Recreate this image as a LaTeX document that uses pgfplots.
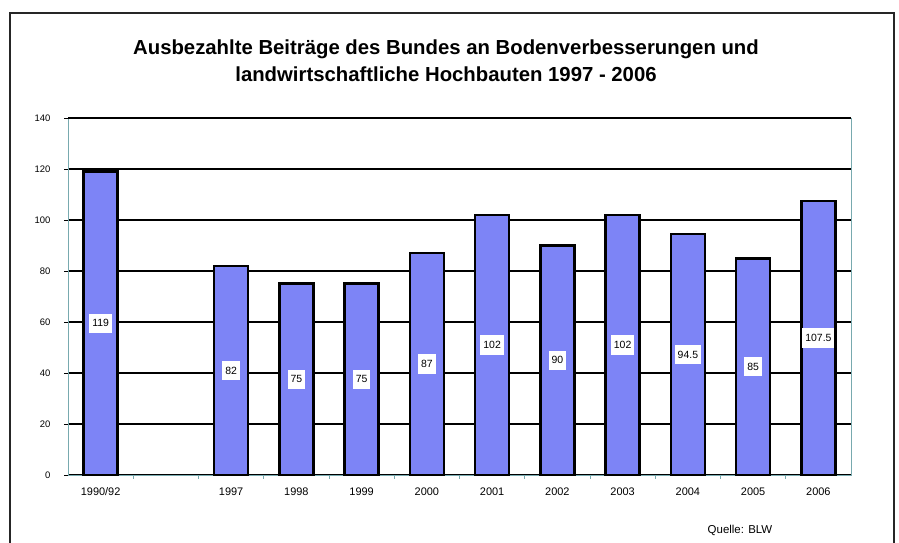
\documentclass[border=0pt]{standalone}
\usepackage{pgfplots}
\pgfplotsset{compat=1.18}
\usepackage{pgfplotstable}
\usepackage{fontspec}
\setmainfont{Liberation Sans}
\definecolor{barblue}{RGB}{125,132,246}
\definecolor{axteal}{RGB}{120,170,175}
\pgfplotstableread{
x v
0 119
2 82
3 75
4 75
5 87
6 102
7 90
8 102
9 94.5
10 85
11 107.5
}\datatable
\begin{document}
\begin{tikzpicture}[x=1bp,y=1bp]
\useasboundingbox (0,0) rectangle (899,543);
\draw[line width=2bp, black!85] (10,-5) -- (10,530) -- (894,530) -- (894,-5);
\node[anchor=base, font=\fontsize{20.4}{24}\selectfont\bfseries] at (446,488)
  {Ausbezahlte Beiträge des Bundes an Bodenverbesserungen und};
\node[anchor=base, font=\fontsize{20.4}{24}\selectfont\bfseries] at (446,461)
  {landwirtschaftliche Hochbauten 1997 - 2006};
\node[font=\fontsize{11.5}{13}\selectfont] at (740,13) {Quelle: BLW};
\begin{axis}[
  at={(68bp,68bp)}, anchor=south west,
  scale only axis, width=783bp, height=357bp,
  xmin=-0.5, xmax=11.5, ymin=0, ymax=140,
  ytick={0,20,...,140},
  xtick={0,2,3,4,5,6,7,8,9,10,11},
  xticklabels={1990/92,1997,1998,1999,2000,2001,2002,2003,2004,2005,2006},
  minor xtick={0.5,1.5,...,10.5},
  xtick pos=bottom, ytick pos=left,
  tick align=outside,
  major x tick style={draw=none},
  minor x tick style={axteal, line width=0.8bp},
  y tick style={black, line width=0.8bp},
  major tick length=4bp, minor tick length=4bp,
  ymajorgrids,
  grid style={black, line width=1.8bp},
  axis line style={axteal, line width=0.8bp},
  xticklabel style={font=\fontsize{11}{13}\selectfont, yshift=-5bp},
  yticklabel style={font=\fontsize{9.5}{11}\selectfont, xshift=-10bp},
  /pgf/number format/assume math mode=true,
  clip=false,
]
\addplot[ybar, bar width=0.52, fill=barblue, draw=black, line width=2.6bp] table[x=x,y=v] {\datatable};
\addplot[only marks, mark=none, point meta=explicit,
  nodes near coords, nodes near coords align={center},
  every node near coord/.style={fill=white, inner xsep=3bp, inner ysep=6bp, font=\fontsize{10.5}{12}\selectfont, /pgf/number format/assume math mode=true, /pgf/number format/fixed}]
  table[x=x, y expr=\thisrow{v}/2, meta=v] {\datatable};
\draw[black, line width=1.8bp] (axis cs:-0.5,140) -- (axis cs:11.5,140);
\end{axis}
\end{tikzpicture}
\end{document}
